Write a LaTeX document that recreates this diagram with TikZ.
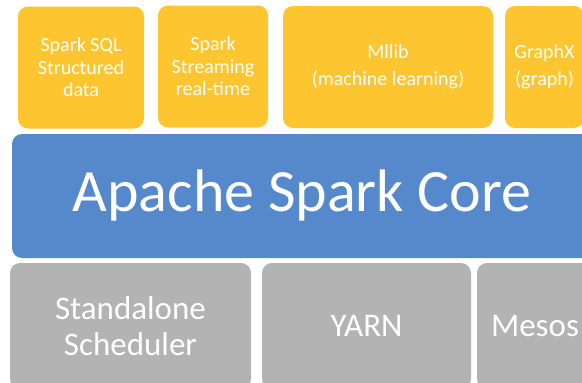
\documentclass[tikz,border=0pt]{standalone}
\usepackage{fontspec}
\setmainfont{Carlito}
\definecolor{libyellow}{HTML}{FDC52F}
\definecolor{coreblue}{HTML}{5689CB}
\definecolor{mgrgray}{HTML}{B3B3B3}

\begin{document}
\begin{tikzpicture} [x=1pt, y=-1pt,
                every node/.style={rectangle, rounded corners=10pt, inner sep=0pt, text=white, align=center},
                lib_style/.style={fill=libyellow, minimum height=122pt, font=\fontsize{20}{22.5}\selectfont}]
                \tikzset{wide_lib/.style={lib_style, font=\fontsize{20}{27}\selectfont},
                         core_style/.style={fill=coreblue, font=\fontsize{60}{68}\selectfont},
                         mgr_style/.style={fill=mgrgray, minimum height=126pt, font=\fontsize{33}{36}\selectfont}}
                \useasboundingbox (0,0) rectangle (582,383);
                \node [lib_style, minimum width=126pt] (sql) at (81,67.5) {Spark SQL\\Structured\\data};
                \node [lib_style, minimum width=110pt] (streaming) at (213,66.5) {Spark\\Streaming\\real-time};
                \node [wide_lib, minimum width=210pt] (mllib) at (388,67) {Mllib\\(machine learning)};
                \node [wide_lib, minimum width=79pt] (graphx) at (544.5,67) {GraphX\\(graph)};
                \node [core_style, minimum width=580pt, minimum height=124pt] (core) at (302,196) {Apache Spark Core};
                \node [mgr_style, minimum width=241pt] (standalone) at (130.5,326) {Standalone\\Scheduler};
                \node [mgr_style, minimum width=209pt] (yarn) at (366.5,326) {YARN};
                \node [mgr_style, minimum width=116pt] (mesos) at (535,326) {Mesos};
            \end{tikzpicture}
\end{document}
